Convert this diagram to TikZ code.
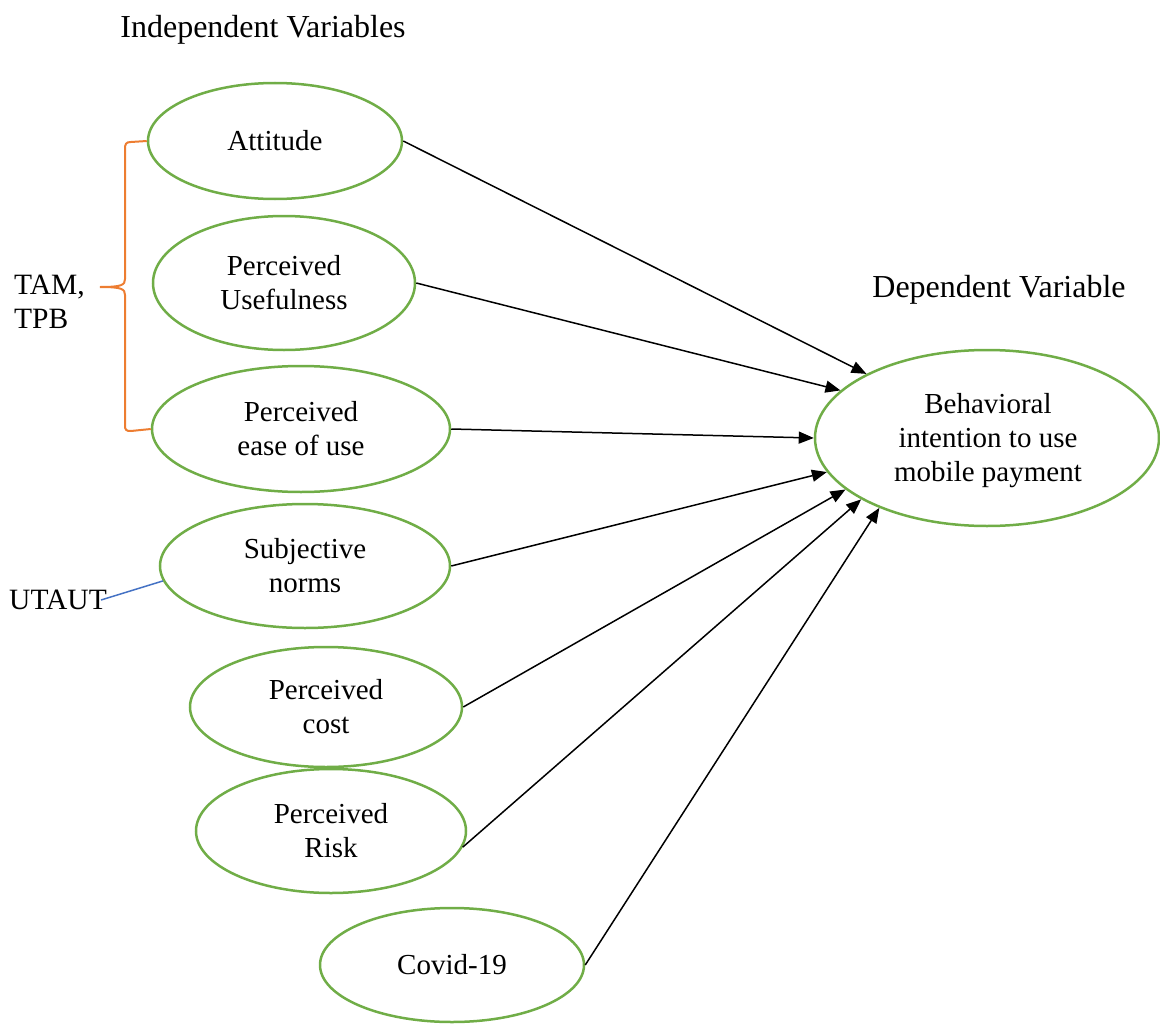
\documentclass[tikz,border=0pt]{standalone}
\usepackage{fontspec}
\setmainfont{Liberation Serif}
\usetikzlibrary{shapes.geometric,arrows.meta}
\definecolor{ovalgreen}{HTML}{70AD47}
\definecolor{braceorange}{HTML}{ED7D31}
\definecolor{linkblue}{HTML}{4472C4}
\begin{document}
\begin{tikzpicture}[x=1pt,y=-1pt,
  var/.style={ellipse, draw=ovalgreen, line width=2.5pt, inner sep=0pt,
    align=center, font=\fontsize{29}{34}\selectfont},
  heading/.style={font=\fontsize{32}{36}\selectfont, inner sep=0pt},
  side/.style={font=\fontsize{29.5}{34}\selectfont, inner sep=0pt, align=left},
  link/.style={line width=1.5pt, -{Triangle[length=15pt,width=12pt]}},
  brace/.style={draw=braceorange, line width=2pt},
]
\useasboundingbox (0,0) rectangle (1160,1025);

% headings
\node[heading] (indep) at (263,30) {Independent Variables};
\node[heading] (dep) at (999,290) {Dependent Variable};

% independent variables
\node[var, minimum width=254pt, minimum height=116pt] (att) at (275,141) {Attitude};
\node[var, minimum width=262pt, minimum height=134pt] (use) at (284,283) {Perceived\\Usefulness};
\node[var, minimum width=298pt, minimum height=126pt] (ease) at (301,429) {Perceived\\ease of use};
\node[var, minimum width=290pt, minimum height=124pt] (subj) at (305,566) {Subjective\\norms};
\node[var, minimum width=272pt, minimum height=120pt] (cost) at (326,707) {Perceived\\cost};
\node[var, minimum width=270pt, minimum height=124pt] (risk) at (331,831) {Perceived\\Risk};
\node[var, minimum width=264pt, minimum height=114pt] (covid) at (452,965) {Covid-19};

% dependent variable
\node[var, minimum width=344pt, minimum height=176pt] (beh) at (987,438) {};
\node[align=center, inner sep=0pt, font=\fontsize{29}{34}\selectfont] (behtext)
  at (988,441) {Behavioral\\intention to use\\mobile payment};

% theory labels
\node[side, anchor=west] (tam) at (14,302) {TAM,\\TPB};
\node[side] (utaut) at (58,600) {UTAUT};
\coordinate (utautend) at (101,600);

% brace grouping the TAM/TPB constructs
\draw[brace] (att.west) -- (131,142) .. controls (126,142) and (125,144) .. (125,149)
  -- (125,279) .. controls (125,285) and (122,287) .. (100,287)
  .. controls (122,287) and (125,289) .. (125,295)
  -- (125,425) .. controls (125,430) and (126,431) .. (131,431) -- (ease.west);

% UTAUT link
\draw[linkblue, line width=1.5pt] (utautend) -- (subj.186);

% paths to the dependent variable
\draw[link] (att.east) -- (beh.152.7);
\draw[link] (use.east) -- (beh.162.8);
\draw[link] (ease.east) -- (beh.180);
\draw[link] (subj.east) -- (beh.192.1);
\draw[link] (cost.east) -- (beh.200.4);
\draw[link] (risk.-7) -- (beh.206.9);
\draw[link] (covid.east) -- (beh.213.9);
\end{tikzpicture}
\end{document}
